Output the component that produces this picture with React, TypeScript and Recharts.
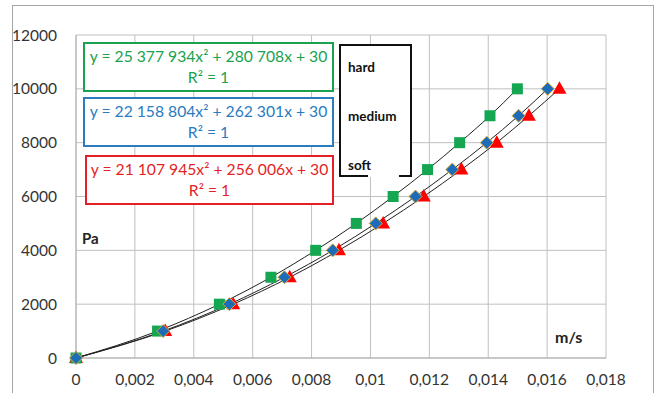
import React from "react";
import { ComposedChart, Line, Scatter, XAxis, YAxis, CartesianGrid } from "recharts";

// pressure steps (Pa)
const pressures = [0, 1000, 2000, 3000, 4000, 5000, 6000, 7000, 8000, 9000, 10000];

// velocity (m/s)
const hardVel = [0, 0.00277, 0.00487, 0.00662, 0.00814, 0.00952, 0.01077, 0.01194, 0.01303, 0.01406, 0.01499];
const mediumVel = [0, 0.00296, 0.00521, 0.00708, 0.00872, 0.01018, 0.01153, 0.01278, 0.01395, 0.01503, 0.01602];
const softVel = [0, 0.00303, 0.00534, 0.00726, 0.00893, 0.01043, 0.01181, 0.01309, 0.01429, 0.01538, 0.01642];

const xTicks = [0, 0.002, 0.004, 0.006, 0.008, 0.01, 0.012, 0.014, 0.016, 0.018];
const yTicks = [0, 2000, 4000, 6000, 8000, 10000, 12000];

const toPoints = (vel: number[]) => vel.map((x, i) => ({ x, y: pressures[i] }));
const hard = toPoints(hardVel);
const medium = toPoints(mediumVel);
const soft = toPoints(softVel);

const FONT = "Lato, 'Open Sans', sans-serif";
const GREEN = "#1aa24f";
const BLUE = "#2a7bbf";
const RED = "#e41f26";

const Square = (p: any) => (
  <rect x={p.cx - 5.5} y={p.cy - 5.5} width={11} height={11} fill="#14a650" />
);
const Diamond = (p: any) => (
  <path
    d={`M${p.cx},${p.cy - 6.5} L${p.cx + 6.5},${p.cy} L${p.cx},${p.cy + 6.5} L${p.cx - 6.5},${p.cy} Z`}
    fill="#1c6cb8"
    stroke="#d9a93c"
    strokeWidth={1}
  />
);
const Triangle = (p: any) => (
  <path
    d={`M${p.cx},${p.cy - 7.5} L${p.cx + 7},${p.cy + 5} L${p.cx - 7},${p.cy + 5} Z`}
    fill="#ff0000"
  />
);

const fmtX = (v: number) => String(Number(v.toFixed(3))).replace(".", ",");

function EqBox({ left, top, width, height, color, eq }: any) {
  return (
    <div
      style={{
        position: "absolute",
        left,
        top,
        width,
        height,
        border: `2px solid ${color}`,
        boxSizing: "border-box",
        background: "#fff",
        color,
        fontFamily: FONT,
        fontSize: 15.7,
        lineHeight: "21px",
        textAlign: "center",
        paddingTop: 2,
        whiteSpace: "nowrap",
      }}
    >
      <div>{eq}</div>
      <div>R² = 1</div>
    </div>
  );
}

export default function App() {
  return (
    <div style={{ position: "absolute", left: 0, top: 0, width: 657, height: 393, background: "#fff", overflow: "hidden" }}>
      <div
        style={{
          position: "absolute",
          left: 12,
          top: 5,
          width: 642,
          height: 400,
          border: "1px solid #a6a6a6",
          boxSizing: "border-box",
        }}
      />
      <div style={{ position: "absolute", left: 0, top: 0 }}>
        <ComposedChart width={657} height={393} margin={{ top: 35, right: 51, left: 16, bottom: 5 }}>
          <CartesianGrid stroke="#c0c0c0" strokeWidth={1} />
          <XAxis
            type="number"
            dataKey="x"
            domain={[0, 0.018]}
            ticks={xTicks}
            tickFormatter={fmtX}
            tickLine={false}
            axisLine={{ stroke: "#b0b0b0" }}
            tick={{ fill: "#333", fontSize: 15.5, fontFamily: FONT }}
            tickMargin={10}
            height={30}
            interval={0}
          />
          <YAxis
            type="number"
            domain={[0, 12000]}
            ticks={yTicks}
            tickLine={false}
            axisLine={{ stroke: "#b0b0b0" }}
            tick={{ fill: "#333", fontSize: 15.5, fontFamily: FONT }}
            tickMargin={13}
            width={60}
            interval={0}
          />
          <Scatter data={soft} dataKey="y" shape={Triangle} isAnimationActive={false} />
          <Scatter data={hard} dataKey="y" shape={Square} isAnimationActive={false} />
          <Scatter data={medium} dataKey="y" shape={Diamond} isAnimationActive={false} />
          <Line data={hard} dataKey="y" type="monotone" stroke="#222" strokeWidth={1} dot={false} isAnimationActive={false} />
          <Line data={medium} dataKey="y" type="monotone" stroke="#222" strokeWidth={1} dot={false} isAnimationActive={false} />
          <Line data={soft} dataKey="y" type="monotone" stroke="#222" strokeWidth={1} dot={false} isAnimationActive={false} />
        </ComposedChart>
      </div>

      <EqBox left={83} top={42} width={251} height={50} color={GREEN} eq="y = 25 377 934x² + 280 708x + 30" />
      <EqBox left={83} top={97} width={251} height={50} color={BLUE} eq="y = 22 158 804x² + 262 301x + 30" />
      <EqBox left={85} top={155} width={249} height={50} color={RED} eq="y = 21 107 945x² + 256 006x + 30" />

      <div
        style={{
          position: "absolute",
          left: 339,
          top: 44,
          width: 73,
          height: 133,
          border: "2px solid #111",
          boxSizing: "border-box",
          background: "#fff",
          fontFamily: FONT,
          fontWeight: 700,
          fontSize: 13.5,
          color: "#111",
        }}
      >
        <div style={{ position: "absolute", left: 7, top: 13 }}>hard</div>
        <div style={{ position: "absolute", left: 7, top: 62 }}>medium</div>
        <div style={{ position: "absolute", left: 7, top: 111 }}>soft</div>
        <div style={{ position: "absolute", left: 27, bottom: -2, width: 31, height: 2, background: "#fff" }} />
      </div>

      <div style={{ position: "absolute", left: 82, top: 229, fontFamily: FONT, fontWeight: 700, fontSize: 15, color: "#222" }}>
        Pa
      </div>
      <div style={{ position: "absolute", left: 555, top: 327, fontFamily: FONT, fontWeight: 700, fontSize: 16, color: "#222" }}>
        m/s
      </div>
    </div>
  );
}
